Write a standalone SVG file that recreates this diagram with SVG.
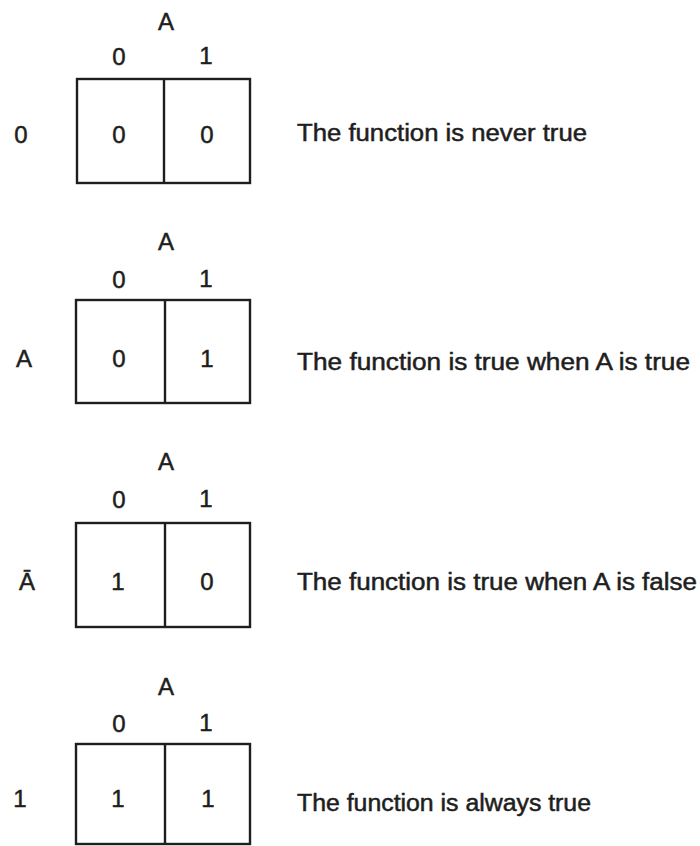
<svg xmlns="http://www.w3.org/2000/svg" width="700" height="846" viewBox="0 0 700 846">
<style>
text{font-family:"Liberation Sans","DejaVu Sans",sans-serif;fill:#1e1e1e;stroke:#1e1e1e;stroke-width:0.5}
.d{font-size:24px;text-anchor:middle}
.t{font-size:23px}
.box{fill:none;stroke:#1e1e1e;stroke-width:2.4}
</style>
<rect width="700" height="846" fill="#fff"/>
<g id="map1">
<text class="d" x="166" y="30">A</text>
<text class="d" x="119" y="65">0</text>
<text class="d" x="206" y="64">1</text>
<text class="d" x="21" y="143">0</text>
<rect class="box" x="77" y="79" width="173" height="104"/>
<line class="box" x1="164" y1="79" x2="164" y2="183"/>
<text class="d" x="119" y="143">0</text>
<text class="d" x="207" y="143">0</text>
<text class="t" x="297" y="141" textLength="290" lengthAdjust="spacingAndGlyphs">The function is never true</text>
</g>
<g id="map2">
<text class="d" x="166" y="250">A</text>
<text class="d" x="119" y="288">0</text>
<text class="d" x="206" y="287">1</text>
<text class="d" x="24" y="367">A</text>
<rect class="box" x="76" y="300" width="174" height="103"/>
<line class="box" x1="165" y1="300" x2="165" y2="403"/>
<text class="d" x="119" y="367">0</text>
<text class="d" x="207" y="367">1</text>
<text class="t" x="297" y="370" textLength="393" lengthAdjust="spacingAndGlyphs">The function is true when A is true</text>
</g>
<g id="map3">
<text class="d" x="166" y="470">A</text>
<text class="d" x="119" y="508">0</text>
<text class="d" x="206" y="507">1</text>
<text class="d" x="27" y="590">Ā</text>
<rect class="box" x="76" y="523" width="174" height="104"/>
<line class="box" x1="165" y1="523" x2="165" y2="627"/>
<text class="d" x="118" y="590">1</text>
<text class="d" x="207" y="590">0</text>
<text class="t" x="297" y="590" textLength="400" lengthAdjust="spacingAndGlyphs">The function is true when A is false</text>
</g>
<g id="map4">
<text class="d" x="166" y="695">A</text>
<text class="d" x="119" y="732">0</text>
<text class="d" x="206" y="731">1</text>
<text class="d" x="20" y="807">1</text>
<rect class="box" x="76" y="744" width="174" height="100"/>
<line class="box" x1="165" y1="744" x2="165" y2="844"/>
<text class="d" x="118" y="807">1</text>
<text class="d" x="208" y="807">1</text>
<text class="t" x="297" y="811" textLength="294" lengthAdjust="spacingAndGlyphs">The function is always true</text>
</g>
<g id="connectors"/>
</svg>
